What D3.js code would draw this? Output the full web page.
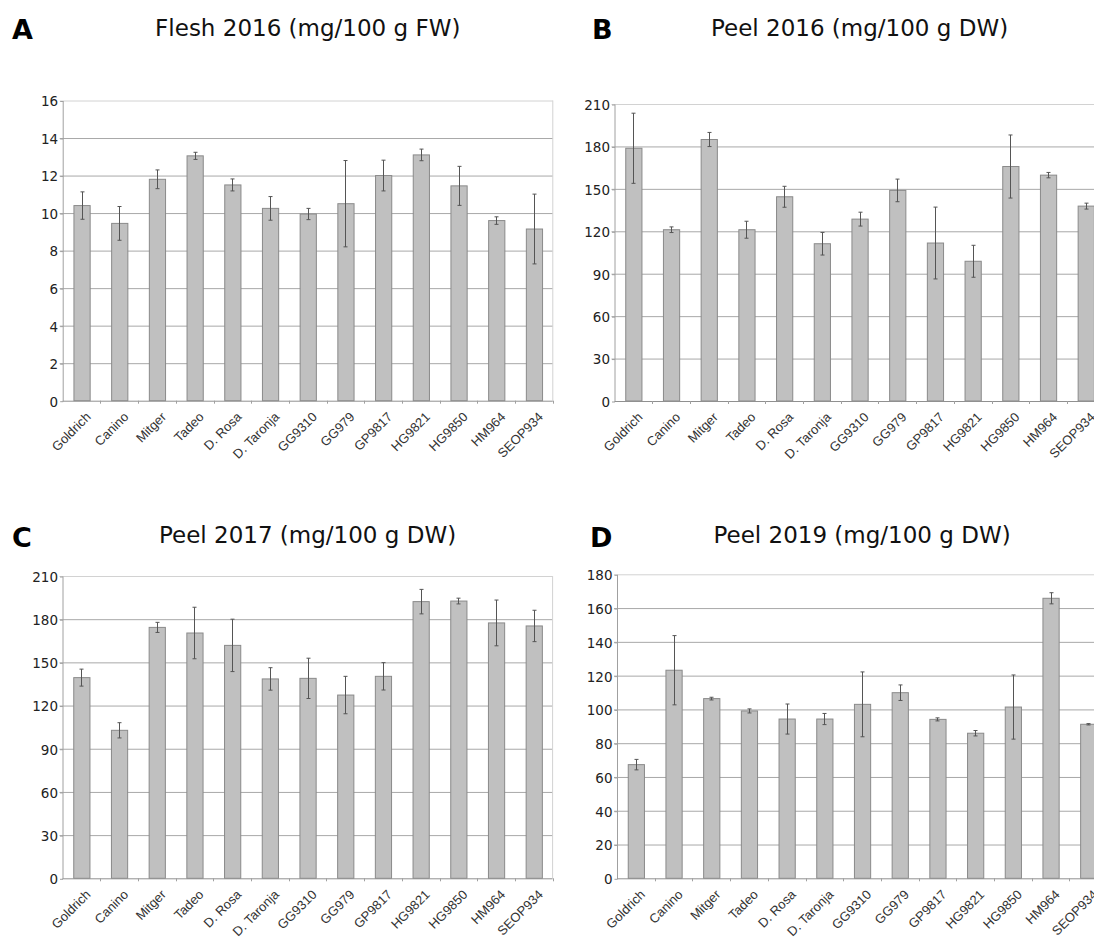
<!DOCTYPE html>
<html>
<head>
<meta charset="utf-8">
<script src="https://cdn.jsdelivr.net/npm/d3@7"></script>
<style>
  html, body { margin: 0; padding: 0; background: #fff; }
  svg { display: block; }
</style>
</head>
<body>
<svg id="chart" width="1094" height="938"></svg>
<script>
// Cultivars / selections, shared by all four panels
const categories = ["Goldrich", "Canino", "Mitger", "Tadeo", "D. Rosa", "D. Taronja",
  "GG9310", "GG979", "GP9817", "HG9821", "HG9850", "HM964", "SEOP934"];

// Flesh 2016 (mg/100 g FW)
const flesh2016 = [10.4, 9.45, 11.8, 13.05, 11.5, 10.25, 9.95, 10.5, 12.0, 13.1, 11.45, 9.6, 9.15];
const flesh2016Err = [0.73, 0.9, 0.5, 0.19, 0.32, 0.63, 0.3, 2.3, 0.82, 0.31, 1.04, 0.2, 1.86];

// Peel 2016 (mg/100 g DW)
const peel2016 = [178.7, 121.1, 184.9, 121.1, 144.4, 111.2, 128.6, 148.9, 111.7, 98.8, 165.8, 159.7, 137.8];
const peel2016Err = [24.8, 2.0, 5.0, 6.0, 7.4, 8.0, 4.9, 8.0, 25.4, 11.3, 22.3, 1.9, 2.1];

// Peel 2017 (mg/100 g DW)
const peel2017 = [139.4, 102.8, 174.3, 170.4, 161.8, 138.5, 138.9, 127.3, 140.3, 192.2, 192.6, 177.4, 175.3];
const peel2017Err = [5.9, 5.3, 3.5, 17.9, 18.2, 7.8, 14.0, 13.0, 9.5, 8.5, 2.0, 15.9, 10.9];

// Peel 2019 (mg/100 g DW)
const peel2019 = [67.3, 123.2, 106.4, 99.1, 94.3, 94.3, 103.0, 109.9, 94.1, 85.9, 101.4, 165.8, 91.2];
const peel2019Err = [3.1, 20.5, 0.8, 1.2, 8.9, 3.3, 19.2, 4.6, 0.9, 1.6, 19.0, 3.3, 0.4];

// Y-axis tick labels
const ticksFlesh = [0, 2, 4, 6, 8, 10, 12, 14, 16];
const ticksPeel = [0, 30, 60, 90, 120, 150, 180, 210];
const ticksPeel19 = [0, 20, 40, 60, 80, 100, 120, 140, 160, 180];

// Panel letters and titles
const letters = ["A", "B", "C", "D"];
const titles = ["Flesh 2016 (mg/100 g FW)", "Peel 2016 (mg/100 g DW)",
  "Peel 2017 (mg/100 g DW)", "Peel 2019 (mg/100 g DW)"];

const panels = [
  { values: flesh2016, errors: flesh2016Err, ticks: ticksFlesh,
    left: 62.7, top: 100.5, bottom: 400.7, letterX: 12, row: 0 },
  { values: peel2016, errors: peel2016Err, ticks: ticksPeel,
    left: 614.5, top: 104, bottom: 401, letterX: 592, row: 0 },
  { values: peel2017, errors: peel2017Err, ticks: ticksPeel,
    left: 62.5, top: 576, bottom: 878.3, letterX: 12, row: 1 },
  { values: peel2019, errors: peel2019Err, ticks: ticksPeel19,
    left: 617, top: 574.3, bottom: 878.3, letterX: 590, row: 1 }
];

const step = 37.7;              // width of one category slot
const plotW = step * categories.length;
const svg = d3.select("#chart");

panels.forEach((p, i) => {
  const right = p.left + plotW;
  const g = svg.append("g");

  const x = d3.scaleBand()
    .domain(categories)
    .range([p.left, right])
    .paddingInner(0.57)
    .paddingOuter(0.285);

  const y = d3.scaleLinear()
    .domain([0, d3.max(p.ticks)])
    .range([p.bottom, p.top]);

  // heading
  const baseY = p.row === 0 ? 35.5 : 543.3;
  g.append("text")
    .attr("x", p.letterX).attr("y", baseY + 3.8)
    .attr("font-family", "DejaVu Sans").attr("font-weight", "bold")
    .attr("font-size", 27).attr("fill", "#000")
    .text(letters[i]);
  g.append("text")
    .attr("x", (p.left + right) / 2).attr("y", baseY)
    .attr("text-anchor", "middle")
    .attr("font-family", "DejaVu Sans").attr("font-size", 23).attr("fill", "#111")
    .text(titles[i]);

  // horizontal grid lines (the topmost one is the light frame)
  g.append("g").selectAll("line")
    .data(p.ticks.filter(t => t > 0))
    .join("line")
    .attr("x1", p.left - 3).attr("x2", right)
    .attr("y1", d => y(d) + 0.5).attr("y2", d => y(d) + 0.5)
    .attr("stroke", d => d === d3.max(p.ticks) ? "#d2d2d2" : "#a8a8a8")
    .attr("stroke-width", 1);

  // right frame edge
  g.append("line")
    .attr("x1", right).attr("x2", right)
    .attr("y1", p.top).attr("y2", p.bottom)
    .attr("stroke", "#d2d2d2");

  // bars
  g.append("g").selectAll("rect")
    .data(p.values)
    .join("rect")
    .attr("x", (d, j) => x(categories[j]) + 0.5)
    .attr("width", x.bandwidth())
    .attr("y", d => y(d))
    .attr("height", d => p.bottom - y(d))
    .attr("fill", "#c0c0c0")
    .attr("stroke", "#8a8a8a")
    .attr("stroke-width", 1);

  // error bars
  const eg = g.append("g").attr("stroke", "#555").attr("stroke-width", 1);
  p.values.forEach((v, j) => {
    const cx = Math.round(x(categories[j]) + x.bandwidth() / 2) + 0.5;
    const hi = y(v + p.errors[j]), lo = y(v - p.errors[j]);
    eg.append("line").attr("x1", cx).attr("x2", cx).attr("y1", hi).attr("y2", lo);
    eg.append("line").attr("x1", cx - 2).attr("x2", cx + 2).attr("y1", hi).attr("y2", hi);
    eg.append("line").attr("x1", cx - 2).attr("x2", cx + 2).attr("y1", lo).attr("y2", lo);
  });

  // y axis
  const yAxis = g.append("g")
    .attr("transform", `translate(${p.left + 0.5},0.5)`)
    .call(d3.axisLeft(y).tickValues(p.ticks).tickSize(3).tickPadding(2).tickFormat(d3.format("d")));
  yAxis.select(".domain").attr("stroke", "#a0a0a0").attr("d", `M0,${p.top}V${p.bottom}`);
  yAxis.selectAll(".tick line").attr("stroke", "#a0a0a0");
  yAxis.selectAll(".tick text")
    .attr("font-family", "DejaVu Sans").attr("font-size", 13.5).attr("fill", "#222")
    .attr("dy", "0.36em");

  // x axis with ticks on the slot boundaries
  const bounds = d3.range(categories.length + 1).map(k => p.left + k * step);
  g.append("line")
    .attr("x1", p.left).attr("x2", right)
    .attr("y1", p.bottom + 0.5).attr("y2", p.bottom + 0.5)
    .attr("stroke", "#909090");
  g.append("g").selectAll("line")
    .data(bounds.slice(1))
    .join("line")
    .attr("x1", d => Math.round(d) + 0.5).attr("x2", d => Math.round(d) + 0.5)
    .attr("y1", p.bottom).attr("y2", p.bottom + 3)
    .attr("stroke", "#a0a0a0");

  // rotated category labels
  g.append("g").selectAll("text")
    .data(categories)
    .join("text")
    .attr("transform", d => `translate(${x(d) + x.bandwidth() / 2 + 10},${p.bottom + 17}) rotate(-45)`)
    .attr("text-anchor", "end")
    .attr("font-family", "Liberation Sans").attr("font-size", 13).attr("fill", "#333")
    .text(d => d);
});
</script>
</body>
</html>
